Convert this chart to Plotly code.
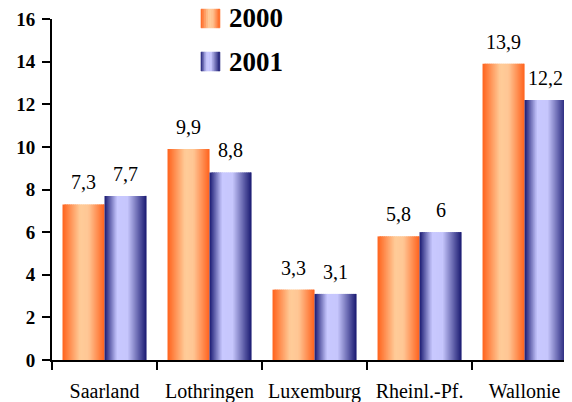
import plotly.graph_objects as go

categories = ["Saarland", "Lothringen", "Luxemburg", "Rheinl.-Pf.", "Wallonie"]
years = ["2000", "2001"]
values_2000 = [7.3, 9.9, 3.3, 5.8, 13.9]
values_2001 = [7.7, 8.8, 3.1, 6, 12.2]
y_ticks = [0, 2, 4, 6, 8, 10, 12, 14, 16]

# horizontal gradient across each bar: (position, rgb)
orange_stops = [(0, (255, 98, 28)), (0.42, (255, 204, 153)), (0.62, (255, 198, 148)), (1, (255, 98, 28))]
blue_stops = [(0, (24, 24, 112)), (0.3, (200, 200, 255)), (0.55, (198, 198, 252)), (1, (24, 24, 112))]

FONT = "Liberation Serif, Times New Roman, serif"
bar_w = 0.4
n_slices = 21
step = bar_w / n_slices


def blend(stops, t):
    for (p0, c0), (p1, c1) in zip(stops, stops[1:]):
        if p0 <= t <= p1:
            f = (t - p0) / (p1 - p0)
            return "rgb(%d,%d,%d)" % tuple(round(a + (b - a) * f) for a, b in zip(c0, c1))
    return "rgb(%d,%d,%d)" % stops[-1][1]


def fmt(v):
    return f"{v:g}".replace(".", ",")


fig = go.Figure()

series = [(values_2000, orange_stops, -bar_w, -bar_w / 2),
          (values_2001, blue_stops, 0, bar_w / 2)]

# bars drawn as thin overlapping slices so the gradient shows without seams
for values, stops, start, _ in series:
    for i in range(n_slices):
        t = (i + 0.5) / n_slices
        fig.add_trace(go.Bar(
            x=categories, y=values,
            width=min(step * 1.8, bar_w - i * step),
            offset=start + i * step,
            marker=dict(color=blend(stops, t), line_width=0),
            showlegend=False, hoverinfo="skip",
        ))

# value labels above the bars
for values, _, _, centre in series:
    for cat, v in zip(categories, values):
        fig.add_annotation(x=cat, y=v, text=fmt(v), showarrow=False,
                           xshift=centre * 105, yshift=9, yanchor="bottom",
                           font=dict(family=FONT, size=20, color="black"))

# legend: gradient swatches + bold year text
leg_x0, leg_x1 = 0.2865, 0.323
leg_rows = [(1.029, 0.974), (0.903, 0.8475)]
for year, stops, (top, bot) in zip(years, [orange_stops, blue_stops], leg_rows):
    n = 10
    for i in range(n):
        t = (i + 0.5) / n
        c = blend(stops, t)
        xa = leg_x0 + (leg_x1 - leg_x0) * i / n
        xb = leg_x0 + (leg_x1 - leg_x0) * (i + 1) / n
        fig.add_shape(type="rect", xref="paper", yref="paper",
                      x0=xa, x1=xb, y0=bot, y1=top,
                      fillcolor=c, line=dict(color=c, width=0.6))
    fig.add_annotation(xref="paper", yref="paper", x=0.336, y=(top + bot) / 2,
                       text="<b>%s</b>" % year, showarrow=False,
                       xanchor="left", yanchor="middle",
                       font=dict(family=FONT, size=27, color="black"))

# page body has an 8px margin, so the figure is offset; margins compensate
fig.update_layout(
    width=564, height=394,
    margin=dict(l=44, r=0, t=11, b=42),
    barmode="overlay",
    plot_bgcolor="white", paper_bgcolor="white",
    showlegend=False,
    font=dict(family=FONT, color="black"),
)
fig.update_xaxes(
    type="category", range=[-0.5, 4.452],
    showline=True, linecolor="black", linewidth=2,
    ticks="outside", tickson="boundaries", ticklen=8, tickwidth=2, tickcolor="black",
    tickfont=dict(family=FONT, size=20, color="black"),
    ticklabelstandoff=12,
    showgrid=False,
)
fig.update_yaxes(
    range=[0, 16], tickvals=y_ticks,
    ticktext=["<b>%d</b>" % v for v in y_ticks],
    showline=True, linecolor="black", linewidth=2,
    ticks="outside", ticklen=8, tickwidth=2, tickcolor="black",
    tickfont=dict(family=FONT, size=19, color="black"),
    ticklabelstandoff=3,
    showgrid=False, zeroline=False,
)

fig.write_html("out.html")
